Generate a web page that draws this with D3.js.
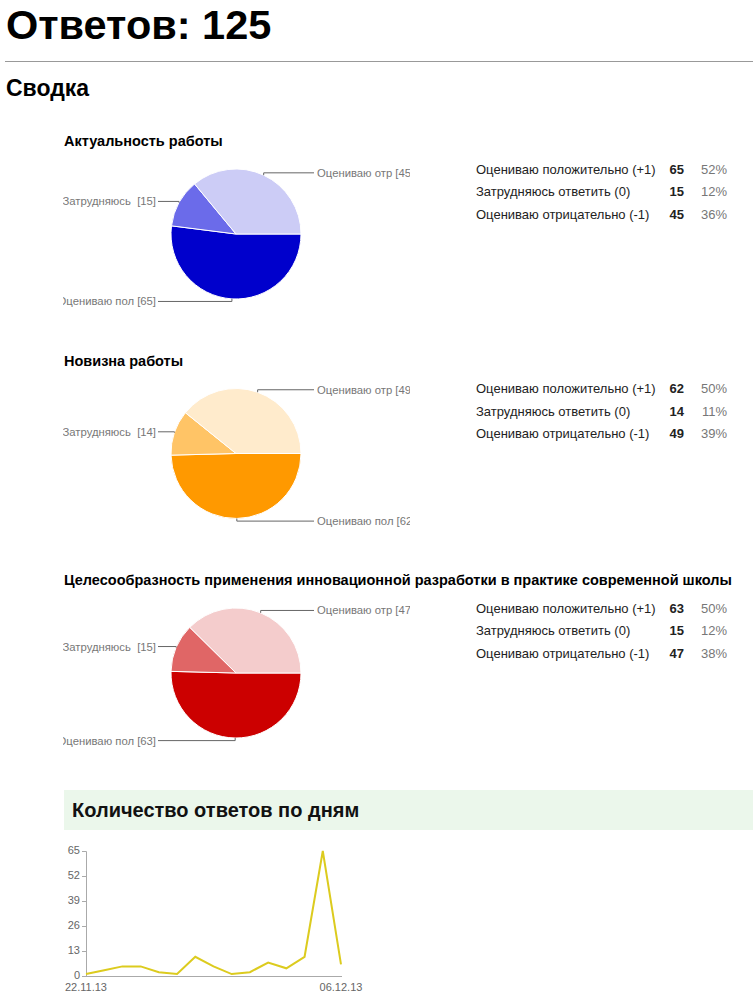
<!DOCTYPE html>
<html>
<head>
<meta charset="utf-8">
<script src="https://cdn.jsdelivr.net/npm/d3@7"></script>
<style>
  html, body { margin: 0; padding: 0; background: #fff; }
  svg { display: block; font-family: Arial, "Liberation Sans", sans-serif; }
  .slice-label { white-space: pre; }
</style>
</head>
<body>
<div id="app"></div>
<script>
const TOTAL = 125;

const questions = [
  'Актуальность работы',
  'Новизна работы',
  'Целесообразность применения инновационной разработки в практике современной школы'
];
const answerLabels = ['Оцениваю положительно (+1)', 'Затрудняюсь ответить (0)', 'Оцениваю отрицательно (-1)'];
const sliceLabels = ['Оцениваю пол', 'Затрудняюсь ', 'Оцениваю отр'];

const counts1 = [65, 15, 45];
const counts2 = [62, 14, 49];
const counts3 = [63, 15, 47];

const colors1 = ['#0000cc', '#6b6bea', '#ccccf6'];
const colors2 = ['#ff9900', '#ffc466', '#ffebcc'];
const colors3 = ['#cc0000', '#e06666', '#f4cccc'];

const days = ['22.11.13', '23.11.13', '24.11.13', '25.11.13', '26.11.13', '27.11.13', '28.11.13',
  '29.11.13', '30.11.13', '01.12.13', '02.12.13', '03.12.13', '04.12.13', '05.12.13', '06.12.13'];
const perDay = [1, 3, 5, 5, 2, 1, 10, 5, 1, 2, 7, 4, 10, 65, 6];
const yTicks = [0, 13, 26, 39, 52, 65];

const W = 753, H = 996;

const svg = d3.select('#app')
  .append('svg')
    .attr('width', W)
    .attr('height', H);

// page heading
svg.append('text')
  .attr('x', 6).attr('y', 39)
  .style('font-size', '41.5px').style('font-weight', 'bold')
  .text('Ответов: ' + TOTAL);

svg.append('line')
  .attr('x1', 5).attr('x2', W)
  .attr('y1', 61.5).attr('y2', 61.5)
  .attr('stroke', '#999');

svg.append('text')
  .attr('x', 6).attr('y', 96)
  .style('font-size', '23px').style('font-weight', 'bold')
  .text('Сводка');

const blocks = [
  { title: questions[0], counts: counts1, colors: colors1 },
  { title: questions[1], counts: counts2, colors: colors2 },
  { title: questions[2], counts: counts3, colors: colors3 }
];

const R = 65;
const pie = d3.pie().sort(null).startAngle(Math.PI / 2).endAngle(Math.PI / 2 + 2 * Math.PI);
const arc = d3.arc().innerRadius(0).outerRadius(R);

svg.append('defs').append('clipPath')
  .attr('id', 'pieclip')
  .append('rect')
    .attr('x', 63).attr('y', 0)
    .attr('width', 347).attr('height', H);

blocks.forEach((b, i) => {
  const top = i * 219.5;
  const cx = 236, cy = 234 + top;

  svg.append('text')
    .attr('x', 64).attr('y', 146 + top)
    .style('font-size', '14.5px').style('font-weight', 'bold')
    .text(b.title);

  const g = svg.append('g').attr('clip-path', 'url(#pieclip)');
  const pg = g.append('g').attr('transform', `translate(${cx},${cy})`);

  const arcs = pie(b.counts);

  pg.selectAll('path')
    .data(arcs)
    .enter()
    .append('path')
      .attr('d', arc)
      .attr('fill', (d, j) => b.colors[j])
      .attr('stroke', '#fff')
      .attr('stroke-width', 1);

  // slice labels with leader lines
  arcs.forEach((d, j) => {
    const mid = (d.startAngle + d.endAngle) / 2;
    const px = R * Math.sin(mid);
    const py = -R * Math.cos(mid);
    const ly = py * 1.04;
    const right = px > 0;
    const lx = right ? 78 : -78;

    pg.append('path')
      .attr('d', `M${px},${py}L${px},${ly}L${lx},${ly}`)
      .attr('fill', 'none')
      .attr('stroke', '#666')
      .attr('stroke-width', 1);

    pg.append('text')
      .attr('class', 'slice-label')
      .attr('x', right ? lx + 3 : lx - 2)
      .attr('y', ly + 4)
      .attr('text-anchor', right ? 'start' : 'end')
      .style('font-size', '11.3px')
      .attr('fill', '#777')
      .text(`${sliceLabels[j]} [${d.data}]`);
  });

  // summary table
  answerLabels.forEach((lab, j) => {
    const y = 173.5 + top + j * 22.6;
    svg.append('text')
      .attr('x', 476).attr('y', y)
      .style('font-size', '13px').attr('fill', '#222')
      .text(lab);
    svg.append('text')
      .attr('x', 684).attr('y', y)
      .attr('text-anchor', 'end')
      .style('font-size', '13px').style('font-weight', 'bold').attr('fill', '#222')
      .text(b.counts[j]);
    svg.append('text')
      .attr('x', 727).attr('y', y)
      .attr('text-anchor', 'end')
      .style('font-size', '13px').attr('fill', '#777')
      .text(Math.round(b.counts[j] / TOTAL * 100) + '%');
  });
});

// responses per day
svg.append('rect')
  .attr('x', 64).attr('y', 790)
  .attr('width', W - 64).attr('height', 40)
  .attr('fill', '#ebf7eb');

svg.append('text')
  .attr('x', 72).attr('y', 817)
  .style('font-size', '20px').style('font-weight', 'bold').attr('fill', '#111')
  .text('Количество ответов по дням');

const x = d3.scalePoint()
  .domain(days)
  .range([86, 341]);

const y = d3.scaleLinear()
  .domain([0, 65])
  .range([976, 851]);

const yAxis = svg.append('g')
  .attr('transform', 'translate(86,0)')
  .call(d3.axisLeft(y).tickValues(yTicks).tickSize(4).tickPadding(2));
yAxis.select('.domain').attr('stroke', '#aaa');
yAxis.selectAll('.tick line').attr('stroke', '#aaa');
yAxis.selectAll('.tick text')
  .attr('fill', '#666')
  .attr('dy', '0.25em')
  .style('font-size', '11px')
  .style('font-family', 'Arial, "Liberation Sans", sans-serif');

svg.append('line')
  .attr('x1', 86).attr('x2', 342)
  .attr('y1', y(0) + 0.5).attr('y2', y(0) + 0.5)
  .attr('stroke', '#aaa');

svg.append('path')
  .datum(perDay)
  .attr('d', d3.line().x((d, i) => x(days[i])).y(d => y(d)))
  .attr('fill', 'none')
  .attr('stroke', '#dccb1e')
  .attr('stroke-width', 2);

[days[0], days[days.length - 1]].forEach(d => {
  svg.append('text')
    .attr('x', x(d)).attr('y', 991)
    .attr('text-anchor', 'middle')
    .style('font-size', '11px').attr('fill', '#666')
    .text(d);
});
</script>
</body>
</html>
